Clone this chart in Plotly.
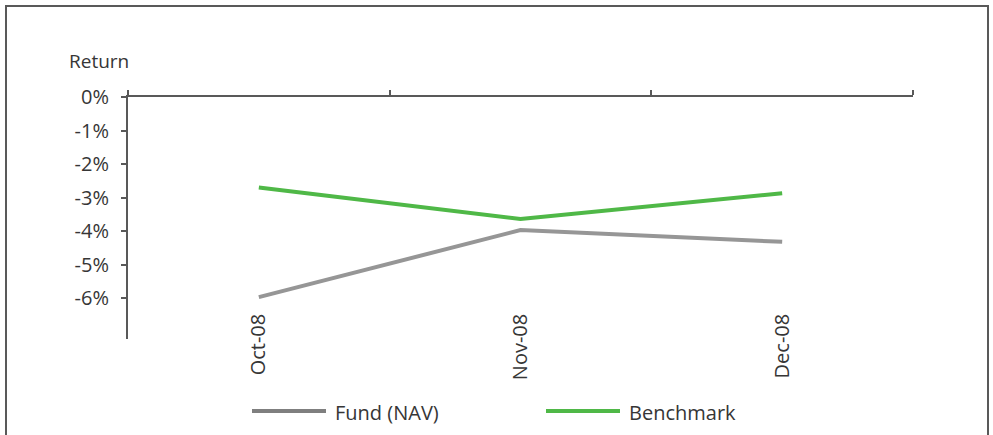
import plotly.graph_objects as go

# Monthly returns (%)
months = ["Oct-08", "Nov-08", "Dec-08"]
fund_nav = [-5.97, -3.97, -4.32]
benchmark = [-2.70, -3.64, -2.87]
y_ticks = [0, -1, -2, -3, -4, -5, -6]
y_tick_labels = ["0%", "-1%", "-2%", "-3%", "-4%", "-5%", "-6%"]

W, H = 993, 435
L, R, T, B = 128, 80, 97, 96
PW, PH = W - L - R, H - T - B

def px(x):
    return (x - L) / PW

def py(y):
    return (H - B - y) / PH

FONT = "Open Sans"
FS = 20
TXT = "#363636"
AXIS = "#595959"
GRAY = "#969696"
GRAY_LEG = "#7f7f7f"
GREEN = "#4fb847"

xpos = list(range(len(months)))

fig = go.Figure()
fig.add_trace(go.Scatter(x=xpos, y=fund_nav, mode="lines", name="Fund (NAV)",
                         line=dict(color=GRAY, width=4), showlegend=False))
fig.add_trace(go.Scatter(x=xpos, y=benchmark, mode="lines", name="Benchmark",
                         line=dict(color=GREEN, width=4), showlegend=False))
# invisible helper so the label axis is drawn
fig.add_trace(go.Scatter(x=xpos, y=[None] * len(xpos), xaxis="x2", mode="lines",
                         showlegend=False, hoverinfo="skip"))

xr = [-0.5, len(months) - 0.5]
fig.update_layout(
    width=W, height=H,
    margin=dict(l=L, r=R, t=T, b=B),
    paper_bgcolor="white", plot_bgcolor="white",
    font=dict(family=FONT, size=FS, color=TXT),
    xaxis=dict(
        range=xr, side="top", showline=True, linecolor=AXIS, linewidth=2,
        tickmode="array", tickvals=[i - 0.5 for i in range(len(months) + 1)],
        ticks="outside", ticklen=5, tickwidth=1.5, tickcolor=AXIS,
        showticklabels=False, showgrid=False, zeroline=False, fixedrange=True,
    ),
    xaxis2=dict(
        range=xr, overlaying="x", anchor="free", position=0.125, side="bottom",
        tickmode="array", tickvals=xpos, ticktext=months, tickangle=-90,
        ticks="", showline=False, showgrid=False, zeroline=False,
        tickfont=dict(family=FONT, size=FS, color=TXT),
    ),
    yaxis=dict(
        range=[-7.22, 0], showline=True, linecolor=AXIS, linewidth=2,
        tickmode="array", tickvals=y_ticks, ticktext=y_tick_labels,
        ticks="outside", ticklen=5, tickwidth=1.5, tickcolor=AXIS,
        ticklabelstandoff=8,
        showgrid=False, zeroline=False,
        tickfont=dict(family=FONT, size=FS, color=TXT),
    ),
    showlegend=False,
)

# outer frame
fig.add_shape(type="rect", xref="paper", yref="paper",
              x0=px(6), x1=px(988), y0=py(470), y1=py(6),
              line=dict(color=AXIS, width=2), fillcolor="rgba(0,0,0,0)", layer="below")

# axis title
fig.add_annotation(text="Return", xref="paper", yref="paper", x=px(67), y=py(61),
                   xanchor="left", yanchor="middle", showarrow=False,
                   font=dict(family=FONT, size=19, color=TXT))

# legend
legend_items = [("Fund (NAV)", GRAY_LEG, 252), ("Benchmark", GREEN, 546)]
for name, color, x0 in legend_items:
    fig.add_shape(type="line", xref="paper", yref="paper",
                  x0=px(x0), x1=px(x0 + 74), y0=py(411), y1=py(411),
                  line=dict(color=color, width=4))
    fig.add_annotation(text=name, xref="paper", yref="paper", x=px(x0 + 81), y=py(412),
                       xanchor="left", yanchor="middle", showarrow=False,
                       font=dict(family=FONT, size=FS, color=TXT))

fig.write_html("out.html")
